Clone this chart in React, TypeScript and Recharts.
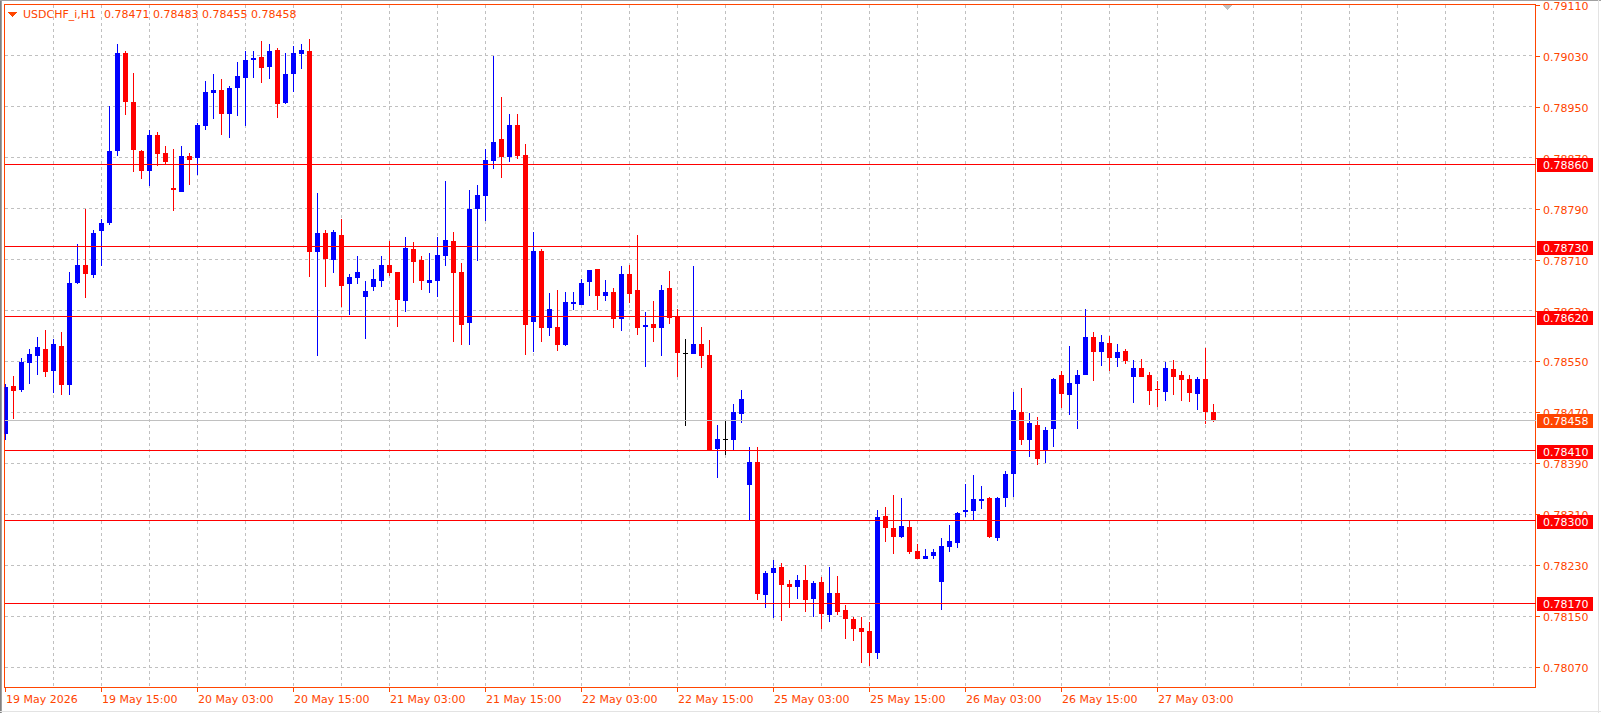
import React from 'react';
import {
  ComposedChart,
  Bar,
  XAxis,
  YAxis,
  CartesianGrid,
  ReferenceLine,
  ReferenceArea,
} from 'recharts';

// USDCHF_i H1 candles, 19 May 03:00 .. 27 May 10:00 (index = bar number)
const OPEN = [
  0.78436, 0.78511, 0.78505, 0.78547, 0.78559, 0.7857, 0.78535, 0.78575, 0.78513, 0.78674,
  0.78702, 0.78686, 0.78755, 0.78767, 0.7888, 0.79035, 0.78957, 0.78881, 0.7885, 0.78906,
  0.78877, 0.78822, 0.78817, 0.78872, 0.78869, 0.7892, 0.78971, 0.78976, 0.78938, 0.78979,
  0.78996, 0.79023, 0.79029, 0.79012, 0.7904, 0.78956, 0.79001, 0.79033, 0.79038, 0.78722,
  0.78752, 0.78709, 0.78749, 0.78671, 0.78681, 0.78652, 0.78667, 0.78676, 0.78701, 0.7869,
  0.78645, 0.78727, 0.7871, 0.78674, 0.78676, 0.78715, 0.7874, 0.78691, 0.7861, 0.7879,
  0.7881, 0.78865, 0.78899, 0.78871, 0.78921, 0.78874, 0.78612, 0.78724, 0.78602, 0.78604,
  0.78576, 0.7864, 0.78639, 0.78675, 0.78695, 0.78653, 0.78659, 0.78617, 0.78687, 0.78662,
  0.78604, 0.78609, 0.78603, 0.78665, 0.7862, 0.78564, 0.78562, 0.78577, 0.7856, 0.78412,
  0.78428, 0.78427, 0.78467, 0.78356, 0.78392, 0.78183, 0.78218, 0.78227, 0.78201, 0.78196,
  0.78206, 0.78177, 0.78203, 0.78152, 0.78186, 0.78159, 0.78146, 0.78132, 0.78127, 0.78092,
  0.78307, 0.78289, 0.78275, 0.7829, 0.78252, 0.7824, 0.78244, 0.78204, 0.78259, 0.78265,
  0.78314, 0.78315, 0.78331, 0.78336, 0.78273, 0.78336, 0.78373, 0.7847, 0.78426, 0.7845,
  0.78411, 0.78444, 0.78529, 0.78498, 0.78515, 0.78529, 0.78588, 0.78565, 0.78579, 0.78556,
  0.78567, 0.78526, 0.7854, 0.78529, 0.78506, 0.78502, 0.78538, 0.78528, 0.78523, 0.78499,
  0.78523, 0.78471,
];
const HIGH = [
  0.78514, 0.78527, 0.78555, 0.7857, 0.78588, 0.786, 0.78586, 0.78597, 0.78691, 0.78734,
  0.78789, 0.78757, 0.78774, 0.78952, 0.79049, 0.79037, 0.79003, 0.78882, 0.78914, 0.78911,
  0.78889, 0.78883, 0.78888, 0.78878, 0.78924, 0.78991, 0.79001, 0.78994, 0.78983, 0.79021,
  0.79038, 0.79038, 0.79054, 0.79049, 0.79042, 0.79034, 0.79046, 0.79049, 0.79056, 0.78815,
  0.78756, 0.78757, 0.78774, 0.78687, 0.78715, 0.78676, 0.78695, 0.78716, 0.7874, 0.78691,
  0.78746, 0.78737, 0.78716, 0.7872, 0.78746, 0.78833, 0.78754, 0.78704, 0.78819, 0.78827,
  0.78883, 0.7903, 0.78965, 0.78939, 0.78938, 0.78891, 0.78754, 0.78727, 0.78657, 0.78662,
  0.78659, 0.78659, 0.78679, 0.78694, 0.78696, 0.78678, 0.78665, 0.787, 0.78701, 0.78748,
  0.78627, 0.78645, 0.7867, 0.78692, 0.78633, 0.78585, 0.787, 0.78604, 0.78583, 0.7845,
  0.78456, 0.78483, 0.78505, 0.78415, 0.78415, 0.78221, 0.78238, 0.78233, 0.78206, 0.78214,
  0.7823, 0.78205, 0.78211, 0.78227, 0.78213, 0.78168, 0.78149, 0.78149, 0.78141, 0.78317,
  0.78321, 0.7834, 0.78336, 0.783, 0.78263, 0.78256, 0.78256, 0.78273, 0.78293, 0.78314,
  0.78358, 0.78372, 0.78354, 0.78337, 0.78337, 0.78378, 0.78502, 0.78508, 0.78469, 0.78463,
  0.78447, 0.78524, 0.78535, 0.78574, 0.78536, 0.78632, 0.78596, 0.78591, 0.7859, 0.78578,
  0.7857, 0.78553, 0.78554, 0.78534, 0.7852, 0.78549, 0.78553, 0.78535, 0.78528, 0.78526,
  0.78571, 0.78483,
];
const LOW = [
  0.78427, 0.7846, 0.78502, 0.78514, 0.78529, 0.78525, 0.785, 0.78498, 0.78498, 0.78671,
  0.78649, 0.78681, 0.787, 0.78765, 0.78872, 0.78937, 0.78847, 0.78836, 0.78825, 0.78857,
  0.7886, 0.78786, 0.78816, 0.78828, 0.78843, 0.78913, 0.78931, 0.78905, 0.78901, 0.78935,
  0.7892, 0.78996, 0.78987, 0.78993, 0.78932, 0.78954, 0.78973, 0.79009, 0.78682, 0.78558,
  0.78667, 0.78689, 0.78635, 0.78623, 0.78671, 0.78585, 0.7866, 0.78667, 0.78685, 0.78604,
  0.78627, 0.78673, 0.78662, 0.78657, 0.78652, 0.787, 0.7858, 0.78576, 0.78576, 0.78708,
  0.78771, 0.78852, 0.78839, 0.78863, 0.78868, 0.7856, 0.78565, 0.7858, 0.7859, 0.78567,
  0.78575, 0.78631, 0.78638, 0.78653, 0.78631, 0.78645, 0.78603, 0.78598, 0.78642, 0.78592,
  0.78542, 0.78581, 0.78559, 0.78609, 0.78526, 0.78449, 0.78561, 0.78539, 0.78409, 0.78367,
  0.78403, 0.7841, 0.78453, 0.78301, 0.78176, 0.78163, 0.78147, 0.78143, 0.78163, 0.78177,
  0.78157, 0.78149, 0.78129, 0.7814, 0.78152, 0.78114, 0.78111, 0.78077, 0.78072, 0.78082,
  0.78266, 0.78247, 0.78273, 0.78247, 0.78239, 0.78239, 0.78239, 0.7816, 0.78251, 0.78257,
  0.78306, 0.78301, 0.78318, 0.78273, 0.78268, 0.78321, 0.78337, 0.78418, 0.784, 0.78388,
  0.7839, 0.78415, 0.78477, 0.78466, 0.78444, 0.78528, 0.7852, 0.78543, 0.78535, 0.78542,
  0.78546, 0.78485, 0.78525, 0.78482, 0.78479, 0.78488, 0.78498, 0.78488, 0.78487, 0.78473,
  0.78452, 0.78455,
];
const CLOSE = [
  0.7851, 0.78504, 0.78549, 0.78562, 0.78572, 0.78533, 0.78577, 0.78513, 0.78674, 0.78702,
  0.78687, 0.78752, 0.78768, 0.78881, 0.79035, 0.78957, 0.78882, 0.7885, 0.78906, 0.78876,
  0.78863, 0.78819, 0.78873, 0.78866, 0.78921, 0.78974, 0.78976, 0.78938, 0.78979, 0.78998,
  0.79024, 0.79027, 0.79011, 0.79038, 0.78954, 0.79001, 0.79035, 0.7904, 0.78722, 0.78752,
  0.78711, 0.78754, 0.78668, 0.78683, 0.7869, 0.78661, 0.7868, 0.78701, 0.78689, 0.78646,
  0.78729, 0.78707, 0.78676, 0.78678, 0.78718, 0.78741, 0.78689, 0.78608, 0.7879, 0.78811,
  0.78866, 0.78895, 0.78871, 0.78921, 0.78872, 0.78608, 0.78723, 0.78602, 0.78632, 0.78576,
  0.78643, 0.78644, 0.78674, 0.78693, 0.78653, 0.78659, 0.78617, 0.78687, 0.78656, 0.78603,
  0.78607, 0.78603, 0.78663, 0.78618, 0.78564, 0.78564, 0.78577, 0.78559, 0.7841, 0.78428,
  0.78428, 0.7847, 0.78491, 0.78392, 0.78185, 0.78217, 0.78225, 0.78199, 0.78196, 0.78206,
  0.78176, 0.78202, 0.78154, 0.78186, 0.78157, 0.78146, 0.7813, 0.78125, 0.78092, 0.78306,
  0.78288, 0.78275, 0.78292, 0.78251, 0.7824, 0.78245, 0.78251, 0.7826, 0.78268, 0.78312,
  0.78317, 0.78334, 0.78334, 0.78274, 0.78336, 0.78373, 0.78474, 0.78426, 0.78453, 0.78396,
  0.78442, 0.78522, 0.78499, 0.78516, 0.78529, 0.78588, 0.78565, 0.78581, 0.78556, 0.78565,
  0.78551, 0.7854, 0.78526, 0.78504, 0.78505, 0.7854, 0.78526, 0.78521, 0.78501, 0.78523,
  0.78471, 0.78458,
];

const TIME_TICKS = [0, 12, 24, 36, 48, 60, 72, 84, 96, 108, 120, 132, 144];
const TIME_LABELS = [
  '19 May 2026', '19 May 15:00', '20 May 03:00', '20 May 15:00', '21 May 03:00',
  '21 May 15:00', '22 May 03:00', '22 May 15:00', '25 May 03:00', '25 May 15:00',
  '26 May 03:00', '26 May 15:00', '27 May 03:00',
];
const PRICE_TICKS = [
  0.7911, 0.7903, 0.7895, 0.7887, 0.7879, 0.7871, 0.7863,
  0.7855, 0.7847, 0.7839, 0.7831, 0.7823, 0.7815, 0.7807,
];
const LEVELS = [0.7886, 0.7873, 0.7862, 0.7841, 0.783, 0.7817];
const LAST_PRICE = 0.78458;
const HEADER = 'USDCHF_i,H1';
const HEADER_OHLC = '0.78471 0.78483 0.78455 0.78458';

const W = 1601;
const H = 713;
const AXIS = '#FF4500';
const GRID = '#C0C0C0';
const BULL = '#0000FF';
const BEAR = '#FF0000';
const FONT = "'DejaVu Sans', Verdana, sans-serif";

// 8px per bar, plot spans 4.5..1535.5 horizontally, 4.5..687.5 vertically
const X_DOMAIN = [-0.125, 191.25];
const Y_DOMAIN = [0.780378, 0.7911079];
const GRID_SLOTS = Array.from({ length: 31 }, (_, k) => 6 * (k + 1));
const GRID_PRICES = PRICE_TICKS.slice(1);

const candles = OPEN.map((o, i) => ({
  i,
  o,
  h: HIGH[i],
  l: LOW[i],
  c: CLOSE[i],
  range: [LOW[i], HIGH[i]],
}));

function Candle(props: any) {
  const { x, y, width, height, payload } = props;
  if (x == null || !payload) return null;
  const top = Math.min(y, y + height);
  const span = Math.abs(height);
  const { o, h, l, c } = payload;
  const yOf = (p: number) => top + ((h - p) / (h - l)) * span;
  const cx = Math.floor(x + width / 2);
  const color = c > o ? BULL : c < o ? BEAR : '#000000';
  const wTop = Math.round(yOf(h));
  const wBot = Math.round(yOf(l));
  const bTop = Math.round(yOf(Math.max(o, c)));
  const bBot = Math.round(yOf(Math.min(o, c)));
  return (
    <g>
      <rect x={cx} y={wTop} width={1} height={Math.max(1, wBot - wTop)} fill={color} />
      <rect x={cx - 2} y={bTop} width={5} height={Math.max(1, bBot - bTop)} fill={color} />
    </g>
  );
}

function PriceTick(props: any) {
  const { x, y, payload } = props;
  const v = payload.value as number;
  const label = v.toFixed(5);
  const ty = Math.round(y);
  const isLevel = LEVELS.includes(v);
  if (isLevel || v === LAST_PRICE) {
    return (
      <g>
        <rect x={x + 1.5} y={ty - 6} width={56} height={14} fill={isLevel ? '#FF0000' : AXIS} />
        <text x={x + 7.5} y={ty + 5} fill="#FFFFFF" fontSize={11} fontFamily={FONT} textAnchor="start">
          {label}
        </text>
      </g>
    );
  }
  return (
    <g>
      <line x1={x} x2={x + 4} y1={ty + 0.5} y2={ty + 0.5} stroke={AXIS} />
      <text x={x + 7.5} y={ty + 4.5} fill={AXIS} fontSize={11} fontFamily={FONT} textAnchor="start">
        {label}
      </text>
    </g>
  );
}

function TimeTick(props: any) {
  const { x, y, payload } = props;
  const k = TIME_TICKS.indexOf(payload.value);
  const tx = Math.floor(x) + 0.5;
  return (
    <g>
      <line x1={tx} x2={tx} y1={y} y2={y + 4} stroke={AXIS} />
      <text x={tx + 0.5} y={y + 15.5} fill={AXIS} fontSize={11} fontFamily={FONT} textAnchor="start">
        {TIME_LABELS[k]}
      </text>
    </g>
  );
}

export default function App() {
  return (
    <div
      style={{
        position: 'fixed',
        left: 0,
        top: 0,
        width: W,
        height: H,
        background: '#FFFFFF',
        shapeRendering: 'crispEdges',
      }}
    >
      <ComposedChart
        width={W}
        height={H}
        data={candles}
        margin={{ top: 4.5, right: 0, bottom: 0, left: 4.5 }}
      >
        <CartesianGrid
          horizontalValues={GRID_PRICES}
          verticalValues={GRID_SLOTS}
          stroke={GRID}
          strokeDasharray="3 3"
        />
        <XAxis
          type="number"
          dataKey="i"
          domain={X_DOMAIN}
          allowDataOverflow
          ticks={TIME_TICKS}
          interval={0}
          tick={<TimeTick />}
          tickSize={0}
          tickMargin={0}
          tickLine={false}
          axisLine={false}
          height={25.5}
        />
        <YAxis
          type="number"
          orientation="right"
          domain={Y_DOMAIN}
          allowDataOverflow
          ticks={[...PRICE_TICKS, LAST_PRICE, ...LEVELS]}
          interval={0}
          tick={<PriceTick />}
          tickSize={0}
          tickMargin={0}
          tickLine={false}
          axisLine={false}
          width={65.5}
        />
        <ReferenceLine y={LAST_PRICE} stroke={GRID} />
        <Bar dataKey="range" barSize={5} shape={<Candle />} isAnimationActive={false} />
        {LEVELS.map((v) => (
          <ReferenceLine key={v} y={v} stroke="#FF0000" />
        ))}
        <ReferenceArea
          x1={X_DOMAIN[0]}
          x2={X_DOMAIN[1]}
          y1={Y_DOMAIN[0]}
          y2={Y_DOMAIN[1]}
          fill="none"
          fillOpacity={0}
          stroke={AXIS}
          ifOverflow="visible"
        />
      </ComposedChart>
      <svg
        width={W}
        height={H}
        style={{ position: 'absolute', left: 0, top: 0, pointerEvents: 'none' }}
      >
        <line x1={0.5} y1={0} x2={0.5} y2={H} stroke="#808080" />
        <line x1={1.5} y1={0} x2={1.5} y2={H} stroke="#A0A0A0" />
        <line x1={0} y1={0.5} x2={W} y2={0.5} stroke="#A0A0A0" />
        <line x1={1598.5} y1={0} x2={1598.5} y2={H} stroke="#E3E3E3" />
        <line x1={0} y1={711.5} x2={W} y2={711.5} stroke="#E3E3E3" />
        <polygon points="8,12 17,12 12.5,17" fill={AXIS} />
        <text x={23} y={18} fill={AXIS} fontSize={11} fontFamily={FONT}>
          {HEADER}
        </text>
        <text x={104} y={18} fill={AXIS} fontSize={11} fontFamily={FONT}>
          {HEADER_OHLC}
        </text>
        <polygon points="1222,5 1232,5 1227,10" fill={GRID} />
      </svg>
    </div>
  );
}
